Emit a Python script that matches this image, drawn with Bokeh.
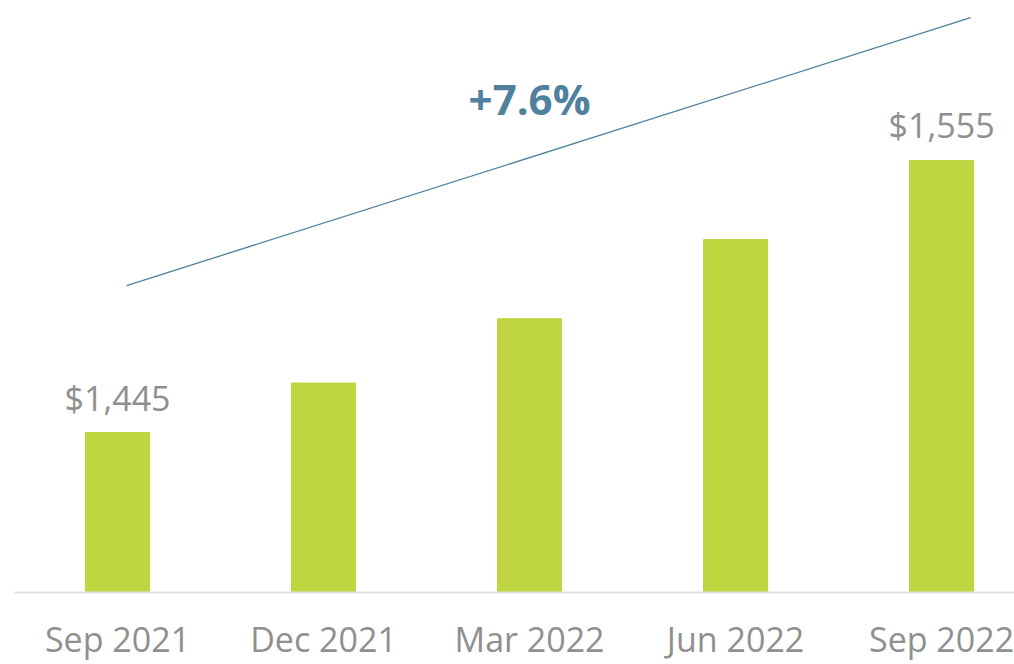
from bokeh.plotting import figure
from bokeh.models import ColumnDataSource, Range1d, FixedTicker
from bokeh.core.properties import value
from bokeh.embed import file_html
from bokeh.resources import INLINE

# Data
quarters = ["Sep 2021", "Dec 2021", "Mar 2022", "Jun 2022", "Sep 2022"]
values = [1445, 1465, 1491, 1523, 1555]
value_labels = ["$1,445", "", "", "", "$1,555"]
growth_label = "+7.6%"

FONT = "Open Sans"
BAR = "#bfd641"
GREY = "#8f8f8f"
BLUE = "#4f809e"

xs = list(range(len(quarters)))
src = ColumnDataSource(dict(x=xs, top=values))
lab_idx = [i for i, t in enumerate(value_labels) if t]
lab_src = ColumnDataSource(dict(x=[xs[i] for i in lab_idx],
                                y=[values[i] for i in lab_idx],
                                t=[value_labels[i] for i in lab_idx]))

y0 = 1380.3
p = figure(width=1014, height=664, output_backend="svg", toolbar_location=None,
           x_range=Range1d(-0.5, 4.354), y_range=Range1d(y0, 1619.7),
           min_border_left=14, min_border_right=0, min_border_top=0,
           min_border_bottom=72)

p.vbar(x="x", top="top", bottom=y0, width=0.311, color=BAR, source=src)

p.text(x="x", y="y", text="t", source=lab_src, text_align="center",
       text_baseline="alphabetic", y_offset=-35, text_font=value(FONT),
       text_font_size="34px", text_color=GREY)

# growth trend line and label
p.segment(x0=[0.044], y0=[1504.4], x1=[4.141], y1=[1612.8],
          line_color=BLUE, line_width=1.3)
p.text(x=[2.0], y=[1580.0], text=[growth_label], text_align="center",
       text_baseline="middle", text_font=value(FONT), text_font_size="42px",
       text_font_style="bold", text_color=BLUE)

p.xaxis.ticker = FixedTicker(ticks=xs)
p.xaxis.major_label_overrides = {i: q for i, q in zip(xs, quarters)}
p.xaxis.major_label_text_font = FONT
p.xaxis.major_label_text_font_size = "34px"
p.xaxis.major_label_text_color = GREY
p.xaxis.major_label_standoff = 17
p.xaxis.major_tick_line_color = None
p.xaxis.minor_tick_line_color = None
p.xaxis.axis_line_color = "#e3e3e3"
p.xaxis.axis_line_width = 2
p.yaxis.visible = False
p.xgrid.visible = False
p.ygrid.visible = False
p.outline_line_color = None
p.background_fill_color = "white"
p.border_fill_color = "white"

open("out.html", "w").write(file_html(p, INLINE))
